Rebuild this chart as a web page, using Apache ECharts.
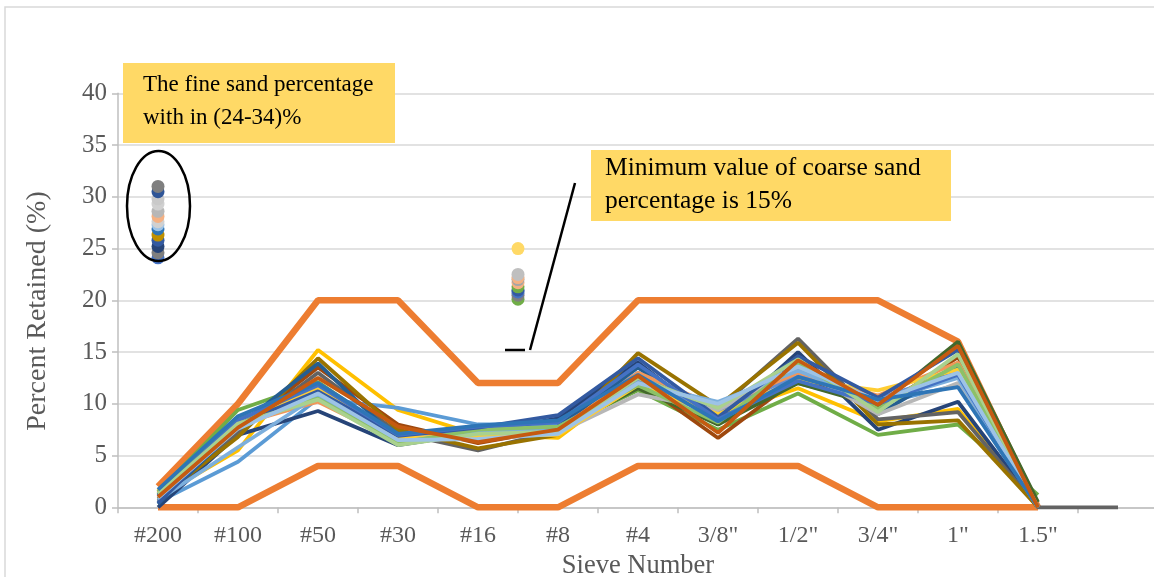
<!DOCTYPE html>
<html>
<head>
<meta charset="utf-8">
<script src="https://cdn.jsdelivr.net/npm/echarts@6/dist/echarts.min.js"></script>
<style>
  html, body { margin: 0; padding: 0; background: #ffffff; overflow: hidden; }
  #chart { width: 1154px; height: 577px; }
</style>
</head>
<body>
<div id="chart"></div>
<script>
// Sieve sizes on the x axis (the last slot is an empty trailing category)
const sieves = ['#200', '#100', '#50', '#30', '#16', '#8', '#4', '3/8"', '1/2"', '3/4"', '1"', '1.5"', ''];

// Specification envelope (percent retained)
const upperLimit = [2, 10, 20, 20, 12, 12, 20, 20, 20, 20, 16, 0];
const lowerLimit = [0, 0, 4, 4, 0, 0, 4, 4, 4, 0, 0, 0];

// Individual gradation curves: percent retained on each sieve
const gradGold      = [1.0, 5.5, 15.2, 9.4, 7.0, 6.7, 12.5, 8.8, 11.5, 8.3, 9.5, 0];
const gradLightBlue = [0.5, 4.4, 10.5, 9.6, 8.0, 8.0, 13.0, 9.0, 12.0, 10.0, 11.8, 0];
const gradGreen     = [1.5, 9.4, 12.1, 6.8, 7.3, 7.6, 11.3, 7.5, 11.0, 7.0, 8.0, 1.2];
const gradNavy      = [0.0, 7.0, 9.3, 6.0, 7.2, 8.6, 14.0, 8.0, 15.0, 7.5, 10.2, 0];
const gradBrown     = [0.8, 7.5, 13.5, 8.0, 6.2, 7.6, 12.2, 6.7, 12.5, 9.5, 14.5, 0];
const gradDarkGray  = [0.6, 7.2, 13.0, 7.2, 5.5, 7.4, 11.8, 9.5, 16.3, 8.5, 9.2, 0, 0];
const gradOlive     = [0.8, 6.8, 14.4, 7.5, 5.7, 7.0, 14.9, 9.8, 15.9, 8.0, 8.4, 0];
const gradSteel     = [0.3, 7.8, 13.9, 6.5, 6.8, 7.8, 13.5, 8.5, 14.0, 9.0, 13.5, 0];
const gradDarkGreen = [1.2, 8.2, 11.5, 7.0, 7.4, 7.5, 11.5, 8.0, 12.0, 9.8, 16.0, 0.5];
const gradMidBlue   = [1.3, 8.5, 11.0, 6.8, 7.6, 7.7, 12.3, 9.2, 12.8, 10.5, 13.0, 0];
const gradPeach     = [1.4, 8.0, 10.2, 6.4, 6.8, 7.4, 13.0, 9.7, 13.0, 10.8, 14.0, 0];
const gradLightGray = [1.0, 7.9, 10.6, 6.6, 7.0, 7.2, 10.9, 9.4, 13.5, 9.0, 12.0, 0];
const gradLightGold = [1.6, 8.3, 11.5, 6.7, 6.9, 7.0, 11.8, 9.0, 12.3, 11.3, 13.3, 0];
const gradSky       = [0.7, 5.8, 10.8, 6.3, 7.3, 7.4, 12.0, 10.2, 13.2, 10.2, 12.5, 0];
const gradLime      = [1.5, 8.6, 10.5, 6.2, 7.5, 7.8, 11.8, 8.2, 13.9, 9.5, 13.8, 0];
const gradCobalt    = [0.4, 8.0, 11.2, 6.9, 7.7, 8.9, 14.4, 8.7, 14.6, 10.6, 15.2, 0];
const gradBlue      = [1.1, 8.4, 11.8, 7.0, 7.8, 8.2, 13.8, 8.5, 12.2, 10.0, 12.8, 0];
const gradPaleGreen = [1.3, 8.1, 10.4, 6.0, 7.1, 7.3, 12.5, 9.6, 14.3, 9.2, 14.8, 0];
const gradPaleBlue  = [0.9, 7.6, 11.0, 6.5, 6.6, 7.1, 12.0, 10.0, 13.6, 10.3, 13.0, 0];
const gradOcean     = [1.7, 8.8, 12.0, 7.1, 7.9, 8.4, 12.8, 8.3, 12.6, 10.4, 11.6, 0];
const gradRust      = [1.0, 7.7, 12.5, 7.8, 6.3, 7.5, 12.7, 7.2, 14.2, 9.9, 15.6, 0];

// Fine sand share of each mix (plotted at the #200 position)
const fineSand = [24.1, 24.6, 25.2, 25.8, 26.3, 26.9, 27.3, 27.6, 28.1, 28.6, 29.3, 29.8, 30.5, 31.0];
const fineSandColors = ['#4472C4', '#7F7F7F', '#264478', '#335AA1', '#BF9000', '#2E75B6', '#9DC3E6',
  '#D0D0D0', '#F4B183', '#B7B7B7', '#D0D0D0', '#C9C9C9', '#2F5597', '#7F7F7F'];

// Coarse sand share of each mix (plotted between #16 and #8)
const coarseSand = [20.1, 20.5, 20.8, 21.0, 21.3, 21.7, 22.0, 22.2, 22.5, 25.0];
const coarseSandColors = ['#70AD47', '#7F7F7F', '#4472C4', '#335AA1', '#70AD47', '#F4B183',
  '#A5A5A5', '#F4B183', '#BFBFBF', '#FFD966'];

const gradations = [
  ['#FFC000', gradGold], ['#5B9BD5', gradLightBlue], ['#70AD47', gradGreen], ['#264478', gradNavy],
  ['#9E480E', gradBrown], ['#636363', gradDarkGray], ['#997300', gradOlive], ['#255E91', gradSteel],
  ['#43682B', gradDarkGreen], ['#698ED0', gradMidBlue], ['#F1975A', gradPeach], ['#B7B7B7', gradLightGray],
  ['#FFCD33', gradLightGold], ['#7CAFDD', gradSky], ['#8CC168', gradLime], ['#335AA1', gradCobalt],
  ['#4472C4', gradBlue], ['#A9D18E', gradPaleGreen], ['#9DC3E6', gradPaleBlue], ['#2E75B6', gradOcean],
  ['#C55A11', gradRust]
];

const serif = '"Liberation Serif", "Times New Roman", serif';
const chart = echarts.init(document.getElementById('chart'));

const series = [];
[upperLimit, lowerLimit].forEach(function (d) {
  series.push({
    type: 'line', data: d, showSymbol: false, clip: false, silent: true,
    lineStyle: { color: '#ED7D31', width: 6.5 }, z: 2
  });
});
gradations.forEach(function (g) {
  series.push({
    type: 'line', data: g[1], showSymbol: false, clip: false, silent: true,
    lineStyle: { color: g[0], width: 3.8 }, z: 3
  });
});
series.push({
  type: 'scatter', xAxisIndex: 1, symbolSize: 13, z: 4,
  data: fineSand.map(function (v, i) {
    return { value: [0.5, v], itemStyle: { color: fineSandColors[i], opacity: 1 } };
  })
});
series.push({
  type: 'scatter', xAxisIndex: 1, symbolSize: 13, z: 4,
  data: coarseSand.map(function (v, i) {
    return { value: [5, v], itemStyle: { color: coarseSandColors[i], opacity: 1 } };
  })
});

chart.setOption({
  animation: false,
  backgroundColor: '#ffffff',
  grid: { left: 118, top: 93.3, width: 1040, height: 414, outerBoundsMode: 'none' },
  xAxis: [{
    type: 'category',
    data: sieves,
    boundaryGap: true,
    axisLine: { lineStyle: { color: '#BFBFBF', width: 1.5 } },
    axisTick: { show: true, length: 6, lineStyle: { color: '#BFBFBF', width: 1.5 } },
    axisLabel: { color: '#595959', fontFamily: serif, fontSize: 24, margin: 16 },
    name: 'Sieve Number',
    nameLocation: 'middle',
    nameGap: 44,
    nameTextStyle: { color: '#595959', fontFamily: serif, fontSize: 26.5 }
  }, {
    type: 'value', min: 0, max: 13, show: false
  }],
  yAxis: {
    type: 'value',
    min: 0, max: 40, interval: 5,
    axisLine: { show: true, lineStyle: { color: '#BFBFBF', width: 1.5 } },
    axisTick: { show: true, length: 6, lineStyle: { color: '#BFBFBF', width: 1.5 } },
    splitLine: { lineStyle: { color: '#D9D9D9', width: 1.5 } },
    axisLabel: { color: '#595959', fontFamily: serif, fontSize: 25, margin: 11 }
  },
  series: series,
  graphic: [
    // outer frame
    { type: 'rect', shape: { x: 5, y: 7, width: 1170, height: 600 }, silent: true,
      style: { fill: 'none', stroke: '#D9D9D9', lineWidth: 1.5 } },
    // y axis title
    { type: 'text', x: 38, y: 311, rotation: Math.PI / 2, silent: true,
      style: { text: 'Percent Retained (%)', fill: '#595959', font: '28px ' + serif,
        align: 'center', verticalAlign: 'middle' } },
    // fine sand note
    { type: 'rect', shape: { x: 123, y: 63, width: 272, height: 80 }, z: 10,
      style: { fill: '#FFD966' } },
    { type: 'text', left: 143, top: 68, z: 11,
      style: { text: 'The fine sand percentage\nwith in (24-34)%', fill: '#000000',
        font: '23px ' + serif, lineHeight: 33 } },
    { type: 'ellipse', shape: { cx: 158.5, cy: 206, rx: 31.5, ry: 55 }, z: 10,
      style: { fill: 'none', stroke: '#000000', lineWidth: 2.5 } },
    // coarse sand note
    { type: 'rect', shape: { x: 591, y: 150, width: 360, height: 71 }, z: 10,
      style: { fill: '#FFD966' } },
    { type: 'text', left: 605, top: 152, z: 11,
      style: { text: 'Minimum value of coarse sand\npercentage is 15%', fill: '#000000',
        font: '25.5px ' + serif, lineHeight: 33 } },
    { type: 'line', shape: { x1: 575, y1: 183, x2: 530, y2: 350 }, z: 10,
      style: { stroke: '#000000', lineWidth: 2.5 } },
    { type: 'line', shape: { x1: 505, y1: 350, x2: 525, y2: 350 }, z: 10,
      style: { stroke: '#000000', lineWidth: 2.5 } }
  ]
});
</script>
</body>
</html>
